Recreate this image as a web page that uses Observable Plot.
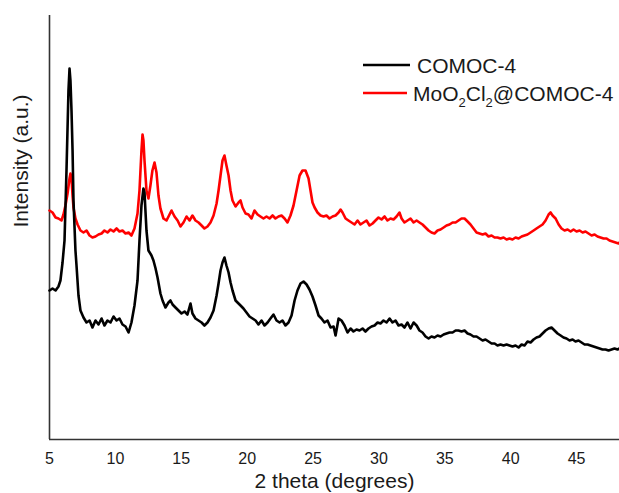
<!DOCTYPE html>
<html>
<head>
<meta charset="utf-8">
<script src="https://cdn.jsdelivr.net/npm/d3@7"></script>
<script src="https://cdn.jsdelivr.net/npm/@observablehq/plot@0.6"></script>
<style>
  html, body { margin: 0; padding: 0; background: #fff; }
  #chart { width: 619px; height: 493px; }
</style>
</head>
<body>
<div id="chart"></div>
<script>
const xTicks = [5, 10, 15, 20, 25, 30, 35, 40, 45];
const seriesNames = ["COMOC-4", "MoO2Cl2@COMOC-4"];
const seriesColors = ["#000000", "#ff0000"];

const comocX = [5.00,5.23,5.46,5.68,5.83,5.99,6.14,6.29,6.44,6.52,6.59,6.67,6.75,6.82,6.97,7.05,7.20,7.35,7.58,7.81,8.04,8.26,8.49,8.72,8.95,9.17,9.40,9.63,9.86,10.09,10.31,10.54,10.77,11.00,11.22,11.45,11.68,11.83,11.98,12.13,12.21,12.36,12.51,12.74,12.89,13.05,13.20,13.42,13.58,13.80,14.03,14.18,14.34,14.56,14.79,15.02,15.25,15.47,15.70,15.85,16.08,16.31,16.54,16.76,16.99,17.22,17.45,17.68,17.83,17.98,18.13,18.28,18.43,18.59,18.74,18.89,19.12,19.27,19.50,19.72,19.95,20.18,20.41,20.64,20.86,21.09,21.32,21.55,21.77,22.00,22.23,22.46,22.68,22.91,23.14,23.37,23.60,23.82,24.05,24.28,24.51,24.73,24.96,25.19,25.42,25.64,25.87,26.10,26.33,26.56,26.71,26.94,27.16,27.39,27.62,27.85,28.07,28.30,28.53,28.76,28.98,29.21,29.44,29.67,29.90,30.12,30.35,30.58,30.81,31.03,31.26,31.49,31.72,31.94,32.17,32.40,32.63,32.86,33.08,33.31,33.54,33.77,33.99,34.22,34.45,34.68,34.91,35.13,35.36,35.59,35.82,36.04,36.27,36.50,36.73,36.95,37.18,37.41,37.64,37.87,38.09,38.32,38.55,38.78,39.00,39.23,39.46,39.69,39.91,40.14,40.37,40.60,40.83,41.05,41.28,41.51,41.74,41.96,42.19,42.42,42.65,42.88,43.10,43.33,43.56,43.79,44.01,44.24,44.47,44.70,44.92,45.15,45.38,45.61,45.84,46.06,46.29,46.52,46.75,46.97,47.20,47.43,47.66,47.88,48.11,48.26];
const comocY = [150,152,150,154,160,178,200,270,350,372,360,330,290,240,190,175,145,130,123,118,120,113,120,116,122,115,120,118,124,120,122,116,114,108,118,135,160,200,235,252,248,210,190,185,180,172,163,147,140,133,138,140,136,133,130,127,129,126,137,127,122,120,118,115,118,123,130,145,157,170,178,183,175,168,158,150,140,138,135,132,128,124,122,120,116,120,115,118,122,126,120,118,120,115,118,125,140,150,157,159,156,151,144,135,125,122,118,120,113,114,105,122,120,115,108,112,109,111,110,112,109,112,114,115,118,117,120,118,122,118,120,115,116,113,118,112,118,115,110,108,104,102,104,103,105,104,106,107,108,108,110,110,109,110,107,106,104,104,102,100,101,99,97,97,95,96,95,96,95,94,95,93,96,95,99,98,101,103,104,107,110,112,113,110,107,105,103,102,100,101,99,100,98,96,96,95,94,93,92,91,91,90,91,92,91,92];

const moX = [5.00,5.23,5.46,5.68,5.91,6.06,6.21,6.37,6.52,6.59,6.67,6.75,6.82,6.97,7.13,7.35,7.58,7.81,8.04,8.26,8.49,8.72,8.95,9.17,9.40,9.63,9.86,10.09,10.31,10.54,10.77,11.00,11.22,11.45,11.68,11.83,11.98,12.06,12.13,12.21,12.36,12.51,12.66,12.81,12.97,13.12,13.27,13.42,13.65,13.88,14.11,14.26,14.49,14.72,14.94,15.17,15.40,15.63,15.85,16.08,16.31,16.54,16.76,16.99,17.22,17.45,17.68,17.83,17.98,18.13,18.28,18.43,18.59,18.74,18.89,19.12,19.35,19.50,19.65,19.88,20.10,20.33,20.56,20.79,21.01,21.24,21.47,21.70,21.93,22.15,22.38,22.61,22.84,23.06,23.29,23.52,23.75,23.98,24.20,24.43,24.66,24.81,24.96,25.12,25.34,25.57,25.80,26.02,26.25,26.48,26.71,26.94,27.09,27.24,27.47,27.69,27.92,28.15,28.38,28.60,28.83,29.06,29.29,29.52,29.74,29.97,30.20,30.43,30.65,30.88,31.11,31.34,31.56,31.72,31.94,32.17,32.40,32.63,32.86,33.08,33.31,33.54,33.77,33.99,34.22,34.45,34.68,34.91,35.13,35.36,35.59,35.82,36.04,36.27,36.50,36.73,36.95,37.18,37.41,37.64,37.87,38.09,38.32,38.55,38.78,39.00,39.23,39.46,39.69,39.91,40.14,40.37,40.60,40.83,41.05,41.28,41.51,41.74,41.96,42.19,42.42,42.65,42.88,43.03,43.18,43.41,43.64,43.86,44.09,44.32,44.55,44.77,45.00,45.23,45.46,45.68,45.91,46.14,46.37,46.59,46.82,47.05,47.28,47.50,47.73,47.96,48.19,48.26];
const moY = [230,228,223,222,220,226,235,247,262,267,262,245,233,222,216,210,208,210,205,203,204,206,207,210,208,211,209,212,209,210,207,208,205,212,227,250,290,306,300,280,250,242,255,270,278,268,245,232,222,220,226,230,224,220,214,218,224,220,225,220,218,215,212,214,218,225,237,250,265,280,285,275,265,250,240,234,238,240,233,227,226,222,230,226,224,222,224,222,225,222,224,225,222,218,225,235,250,265,270,270,262,250,238,233,228,225,224,225,222,224,225,228,231,228,222,220,218,216,220,216,218,220,215,217,220,223,221,224,220,222,221,224,228,222,218,220,222,218,220,218,216,213,210,208,207,210,211,213,215,216,218,218,220,222,222,219,216,212,208,207,206,207,204,205,203,203,202,203,201,202,201,203,202,204,205,206,208,210,212,214,216,220,226,228,225,222,216,212,210,211,209,211,209,210,208,209,207,205,206,204,203,202,202,200,199,198,197,198];

const comoc = comocX.map((x, i) => ({x, y: comocY[i], s: seriesNames[0]}));
const mo = moX.map((x, i) => ({x, y: moY[i], s: seriesNames[1]}));

const FONT = "'Liberation Sans', Arial, Helvetica, sans-serif";

const plot = Plot.plot({
  width: 619,
  height: 493,
  marginLeft: 49,
  marginRight: 0,
  marginTop: 15,
  marginBottom: 54,
  style: {fontFamily: FONT, background: "#fff", color: "#1a1a1a", overflow: "visible"},
  x: {domain: [5, 48.26], ticks: xTicks, label: null},
  y: {domain: [1, 425], axis: null},
  marks: [
    Plot.axisX({ticks: xTicks, tickSize: 0, tickPadding: 13, fontSize: 16, label: null, tickFormat: d => String(d)}),
    Plot.ruleX([5], {stroke: "#333", strokeWidth: 1.6}),
    Plot.ruleY([1], {stroke: "#333", strokeWidth: 1.6}),
    Plot.line(mo, {x: "x", y: "y", stroke: seriesColors[1], strokeWidth: 2.6}),
    Plot.line(comoc, {x: "x", y: "y", stroke: seriesColors[0], strokeWidth: 2.6}),
    Plot.text(["2 theta (degrees)"], {frameAnchor: "bottom", lineAnchor: "top", dy: 34, fontSize: 21, fill: "#1a1a1a"}),
    Plot.text(["Intensity (a.u.)"], {frameAnchor: "left", lineAnchor: "top", rotate: -90, dx: -36, fontSize: 21, fill: "#1a1a1a"})
  ]
});

document.getElementById("chart").appendChild(plot);

// Legend inside the plot area
const svg = d3.select(plot);
const leg = svg.append("g").attr("font-family", FONT).attr("font-size", 21)
  .attr("fill", "#1a1a1a").attr("text-anchor", "start");
const items = [
  {y: 65, color: seriesColors[0], x1: 363, x2: 410, tx: 417},
  {y: 93, color: seriesColors[1], x1: 363, x2: 407, tx: 413}
];
items.forEach((it, i) => {
  leg.append("line").attr("x1", it.x1).attr("x2", it.x2).attr("y1", it.y).attr("y2", it.y)
    .attr("stroke", it.color).attr("stroke-width", 2.3);
  const t = leg.append("text").attr("x", it.tx).attr("y", it.y + 8).attr("text-anchor", "start");
  if (i === 0) {
    t.text(seriesNames[0]);
  } else {
    t.append("tspan").text("MoO");
    t.append("tspan").attr("font-size", 13).attr("dy", 6).text("2");
    t.append("tspan").attr("dy", -6).text("Cl");
    t.append("tspan").attr("font-size", 13).attr("dy", 6).text("2");
    t.append("tspan").attr("dy", -6).text("@COMOC-4");
  }
});
</script>
</body>
</html>
